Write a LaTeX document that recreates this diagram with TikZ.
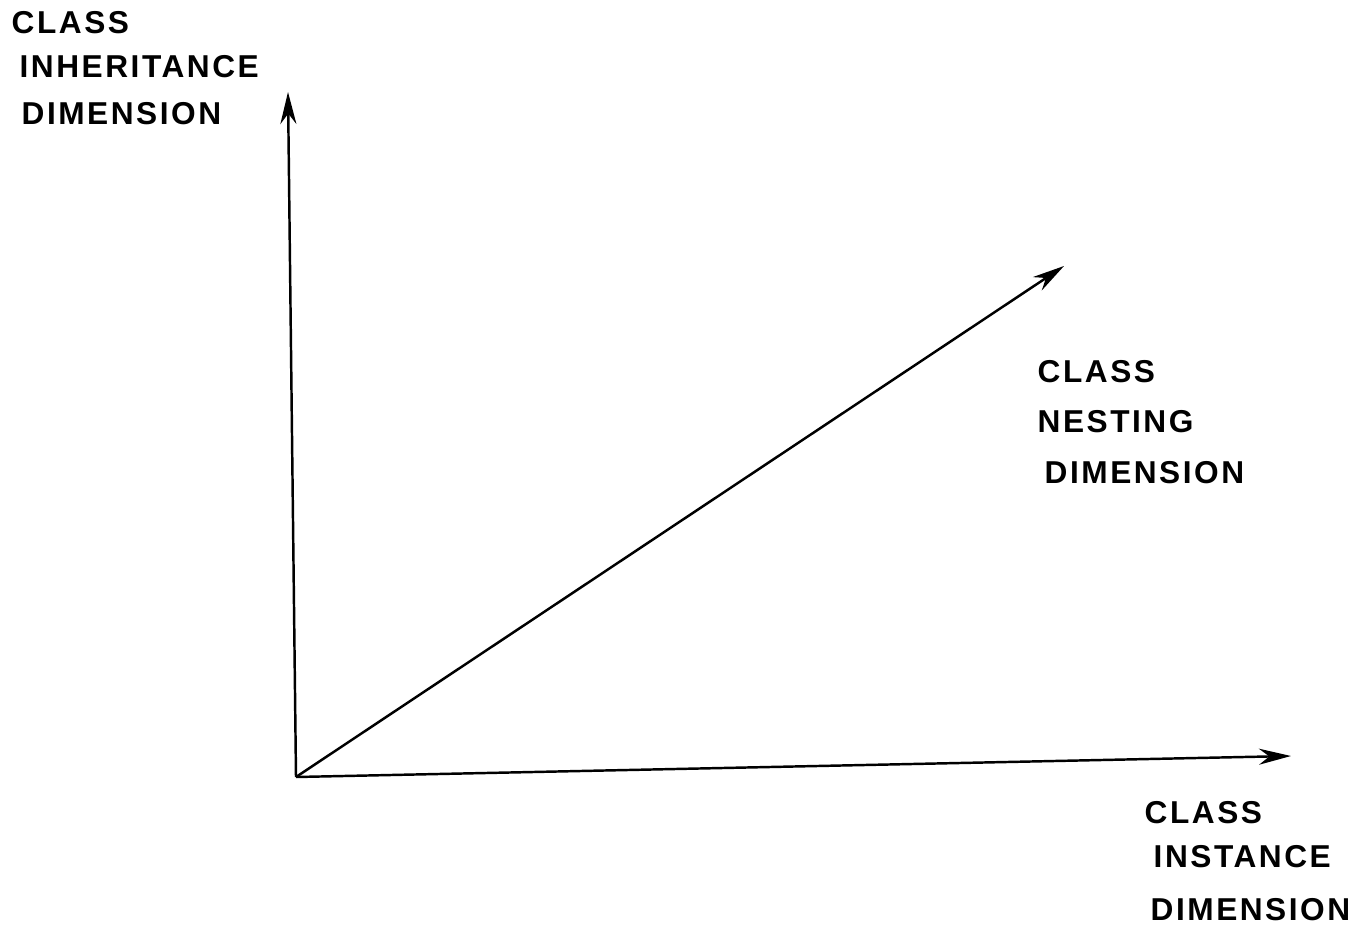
\documentclass[tikz,border=0pt]{standalone}
\usepackage{fontspec}
\setmainfont{Liberation Sans}
\newfontfamily\plotfont[LetterSpace=8]{Liberation Sans Bold}
\usepackage{tikz}
\usetikzlibrary{arrows.meta}

\tikzset{
  axis/.style={line width=0.7pt,-{Stealth[length=3.2mm,width=1.6mm]}},
  lbl/.style={anchor=base west,inner sep=0pt,font=\plotfont\fontsize{9}{10}\selectfont}
}

\begin{document}
\begin{tikzpicture}[x=0.1mm,y=-0.1mm]
  \useasboundingbox (0,0) rectangle (1355,931);
  \coordinate (o) at (296,777);
  \coordinate (inh) at (288,92);
  \coordinate (nest) at (1064,266);
  \coordinate (inst) at (1291,756);
  % the three axes
  \draw[axis] (o) -- (inh);
  \draw[axis] (o) -- (nest);
  \draw[axis] (o) -- (inst);
  % labels
  \node[lbl] (inh1) at (11,33) {CLASS};
  \node[lbl] (inh2) at (19,77) {INHERITANCE};
  \node[lbl] (inh3) at (21,124) {DIMENSION};
  \node[lbl] (nest1) at (1037,382) {CLASS};
  \node[lbl] (nest2) at (1037,432) {NESTING};
  \node[lbl] (nest3) at (1044,483) {DIMENSION};
  \node[lbl] (inst1) at (1144,823) {CLASS};
  \node[lbl] (inst2) at (1153,867) {INSTANCE};
  \node[lbl] (inst3) at (1150,920) {DIMENSION};
\end{tikzpicture}
\end{document}
